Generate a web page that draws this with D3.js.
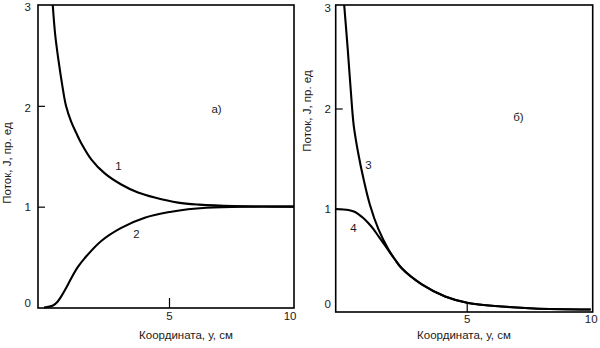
<!DOCTYPE html>
<html><head><meta charset="utf-8">
<script src="https://cdn.jsdelivr.net/npm/d3@7"></script>
<style>
html,body{margin:0;padding:0;background:#fff;}
svg{display:block;font-family:"Liberation Sans",Arial,sans-serif;}
</style></head>
<body><svg id="c" width="600" height="348"></svg>
<script>
// ---- data ----
const yTickValues = [0, 1, 2, 3];
const yTickMarks = [1, 2];
const xTickValues = [5, 10];
const xTickMarks = [5];
const xTitle = "Координата, у, см";
const yTitle = "Поток, J, пр. ед";

// panel a)
const curve1X = [0.35, 0.45, 0.58, 0.72, 0.88, 1.09, 1.31, 1.49, 1.89, 2.43, 3.09, 3.76, 4.43, 5.36, 6.2, 7.6, 10];
const curve1Y = [3.0, 2.7, 2.45, 2.22, 2.0, 1.84, 1.72, 1.63, 1.47, 1.33, 1.22, 1.14, 1.09, 1.04, 1.02, 1.005, 1.0];
const curve2X = [0, 0.36, 0.55, 0.69, 0.9, 1.09, 1.35, 1.63, 2.29, 3.09, 4.03, 5.09, 5.76, 6.5, 8, 10];
const curve2Y = [0, 0.02, 0.06, 0.11, 0.2, 0.29, 0.4, 0.49, 0.66, 0.79, 0.89, 0.95, 0.975, 0.99, 1.0, 1.0];
// panel б)
const curve3X = [0.06, 0.2, 0.38, 0.45, 0.63, 0.83, 1.1, 1.44, 1.84, 2.1, 2.38, 3.19, 4.13, 5.06, 6.4, 7.7, 10];
const curve3Y = [3.03, 2.6, 2.0, 1.82, 1.55, 1.31, 1.04, 0.8, 0.6, 0.5, 0.41, 0.25, 0.13, 0.065, 0.03, 0.01, 0.0];
const curve4X = [-0.28, 0.23, 0.45, 0.63, 0.83, 1.03, 1.24, 1.44, 1.64, 1.84, 2.1, 2.38, 3.19, 4.13, 5.06, 6.4, 7.7, 10];
const curve4Y = [1.0, 0.99, 0.975, 0.95, 0.91, 0.86, 0.8, 0.73, 0.66, 0.59, 0.5, 0.41, 0.25, 0.13, 0.065, 0.03, 0.01, 0.0];

const svg = d3.select("#c");
const ink = "#1a1a1a";
const fs = 11.5;

function panel(cfg) {
  const x = d3.scaleLinear().domain([0, 10]).range(cfg.xr);
  const y = d3.scaleLinear().domain([0, 3]).range(cfg.yr);
  const g = svg.append("g");

  // curves
  const line = d3.line().x(d => x(d[0])).y(d => y(d[1])).curve(d3.curveCatmullRom.alpha(0.5));
  cfg.curves.forEach(c => {
    const pts = c.xs.map((v, i) => [v, c.ys[i]]);
    g.append("path").attr("d", line(pts)).attr("fill", "none")
      .attr("stroke", "#000").attr("stroke-width", 2.1).attr("stroke-linejoin", "round");
  });

  // y tick marks (inside)
  const ym = g.append("g").attr("transform", `translate(${cfg.frame[0]},0)`)
    .call(d3.axisRight(y).tickValues(yTickMarks).tickSize(7).tickFormat(""));
  ym.select(".domain").remove();
  ym.selectAll("line").attr("stroke", "#000").attr("stroke-width", 1.2);

  // y tick labels
  const yl = g.append("g").attr("transform", `translate(${cfg.ylabX},0)`)
    .call(d3.axisLeft(y).tickValues(yTickValues).tickSize(0).tickPadding(0).tickFormat(d3.format("d")));
  yl.select(".domain").remove();
  yl.selectAll("text").attr("font-size", fs).attr("fill", ink)
    .attr("font-family", "Liberation Sans, Arial, sans-serif")
    .attr("dy", (d) => cfg.ylabDy[d]);

  // x tick marks (inside, upward)
  const xm = g.append("g").attr("transform", `translate(0,${cfg.frame[3]})`)
    .call(d3.axisTop(x).tickValues(xTickMarks).tickSize(10).tickFormat(""));
  xm.select(".domain").remove();
  xm.selectAll("line").attr("stroke", "#000").attr("stroke-width", 1.2);

  // x tick labels
  const xl = g.append("g").attr("transform", `translate(0,${cfg.xlabY})`)
    .call(d3.axisBottom(x).tickValues(xTickValues).tickSize(0).tickPadding(0).tickFormat(d3.format("d")));
  xl.select(".domain").remove();
  xl.selectAll("text").attr("font-size", fs).attr("fill", ink)
    .attr("font-family", "Liberation Sans, Arial, sans-serif")
    .attr("text-anchor", d => (d === 10 && cfg.tenEnd) ? "end" : "middle")
    .attr("dx", d => (d === 10 && cfg.tenEnd) ? 2 : 0);

  // frame
  const [fx0, fy0, fx1, fy1] = cfg.frame;
  g.append("rect").attr("x", fx0).attr("y", fy0).attr("width", fx1 - fx0).attr("height", fy1 - fy0)
    .attr("fill", "none").attr("stroke", "#000").attr("stroke-width", 1.6);

  // titles
  g.append("text").attr("x", cfg.xTitlePos[0]).attr("y", cfg.xTitlePos[1])
    .attr("text-anchor", "middle").attr("font-size", fs).attr("fill", ink).text(xTitle);
  g.append("text").attr("transform", `translate(${cfg.yTitlePos[0]},${cfg.yTitlePos[1]}) rotate(-90)`)
    .attr("text-anchor", "middle").attr("dominant-baseline", "central")
    .attr("font-size", fs).attr("fill", ink).text(yTitle);

  // annotations
  cfg.notes.forEach(n => {
    g.append("text").attr("x", n[0]).attr("y", n[1]).attr("text-anchor", "middle")
      .attr("dominant-baseline", "central").attr("font-size", fs).attr("fill", ink).text(n[2]);
  });
}

panel({
  xr: [44, 294], yr: [307.5, 5], frame: [38, 5, 294, 308],
  ylabX: 31, ylabDy: {0: "-0.1em", 1: "0.32em", 2: "0.45em", 3: "0.5em"},
  xlabY: 312, tenEnd: true,
  xTitlePos: [186, 339], yTitlePos: [7, 163],
  curves: [{xs: curve1X, ys: curve1Y}, {xs: curve2X, ys: curve2Y}],
  notes: [[118.5, 165.5, "1"], [136.5, 234, "2"], [216.5, 108.5, "а)"]]
});

panel({
  xr: [342.7, 590.7], yr: [309.5, 8], frame: [335.7, 5, 592.7, 312],
  ylabX: 331, ylabDy: {0: "-0.15em", 1: "0.32em", 2: "0.32em", 3: "0.32em"},
  xlabY: 315, tenEnd: false,
  xTitlePos: [464, 338.5], yTitlePos: [307, 111],
  curves: [{xs: curve3X, ys: curve3Y}, {xs: curve4X, ys: curve4Y}],
  notes: [[368.5, 165, "3"], [353.5, 227.5, "4"], [518.5, 116.5, "б)"]]
});
</script></body></html>
